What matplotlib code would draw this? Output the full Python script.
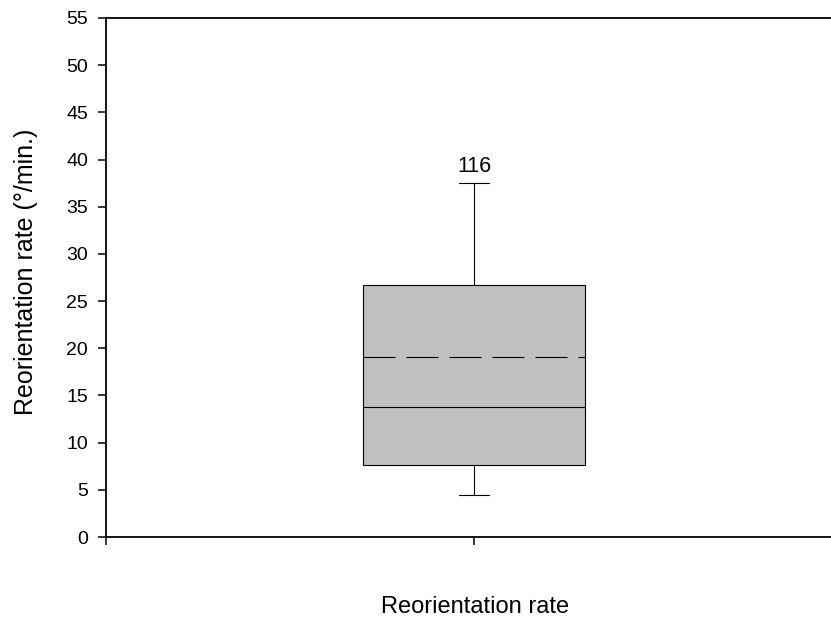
import matplotlib
matplotlib.use('Agg')
import matplotlib.pyplot as plt

plt.rcParams['font.family'] = ['Liberation Sans', 'DejaVu Sans']

# box plot summary values
category = "Reorientation rate"
n_label = "116"
q1 = 7.6
median = 13.75
mean = 19.05
q3 = 26.7
whisker_lo = 4.4
whisker_hi = 37.55

y_ticks = [0, 5, 10, 15, 20, 25, 30, 35, 40, 45, 50, 55]

fig = plt.figure(figsize=(8.31, 6.23), dpi=100)
ax = fig.add_axes([106 / 831, 1 - 537 / 623, 1 - 106 / 831, (537 - 18) / 623])

stats = [{
    'med': median, 'q1': q1, 'q3': q3, 'mean': mean,
    'whislo': whisker_lo, 'whishi': whisker_hi, 'fliers': [],
}]

ax.bxp(stats, positions=[1], widths=0.603, patch_artist=True,
       showmeans=True, meanline=True, showfliers=False,
       boxprops=dict(facecolor='#c0c0c0', edgecolor='black', linewidth=0.8),
       medianprops=dict(color='black', linewidth=0.8),
       meanprops=dict(color='black', linewidth=0.8, linestyle=(0, (28.8, 9.9))),
       whiskerprops=dict(color='black', linewidth=0.8),
       capprops=dict(color='black', linewidth=0.8),
       capwidths=0.08)

ax.annotate(n_label, (1, whisker_hi), xytext=(0, 4), textcoords='offset points',
            ha='center', va='bottom', fontsize=15.5)

ax.set_xlim(0, 1.97)
ax.set_ylim(0, 55)
ax.set_yticks(y_ticks)
ax.set_xticks([0, 1])
ax.set_xticklabels(['', ''])

for side in ['top', 'left', 'bottom']:
    ax.spines[side].set_linewidth(1.3)
ax.spines['right'].set_visible(False)

ax.tick_params(axis='both', direction='out', length=5.8, width=1.1, labelsize=14, pad=7)

ax.set_xlabel(category, fontsize=17)
ax.set_ylabel("Reorientation rate (°/min.)", fontsize=18)
ax.xaxis.set_label_coords(0.5090, -0.1137)
ax.yaxis.set_label_coords(-0.0938, 0.51)

fig.savefig('out.png', dpi=100)
